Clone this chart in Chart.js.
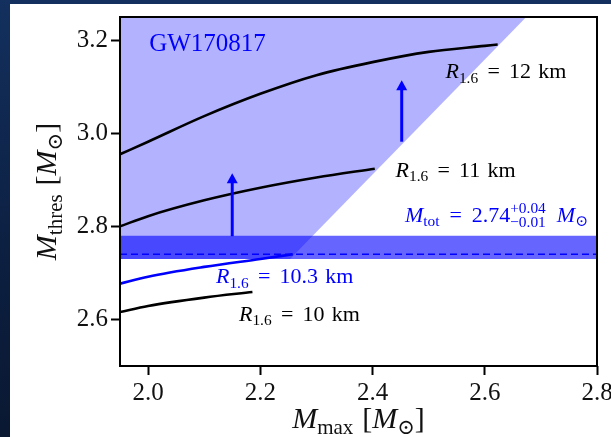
<!DOCTYPE html>
<html>
<head>
<meta charset="utf-8">
<script src="https://cdn.jsdelivr.net/npm/chart.js@4/dist/chart.umd.min.js"></script>
<style>
  html, body { margin: 0; padding: 0; width: 611px; height: 437px; overflow: hidden; }
  body { background: linear-gradient(180deg, #13305e 0%, #0c1f40 60%, #0a1832 100%); position: relative; }
  #panel { position: absolute; left: 10px; top: 4px; width: 621px; height: 433px; background: #fff; }
</style>
</head>
<body>
<div id="panel"><canvas id="chart" width="621" height="433"></canvas></div>
<script>
// axes
const xTicks = [2.0, 2.2, 2.4, 2.6, 2.8];
const yTicks = [2.6, 2.8, 3.0, 3.2];

// excluded region (GW170817) : lower edge of the shaded area
const shadeM = [1.95, 2.253, 2.674];
const shadeY = [2.73, 2.73, 3.25];

// M_tot = 2.74 (+0.04 / -0.01)
const bandM = [1.95, 2.8];
const bandLow = [2.73, 2.73];
const bandHigh = [2.78, 2.78];
const bandMid = [2.74, 2.74];

// threshold mass curves
const r12M = [1.95, 2.0, 2.1, 2.2, 2.3, 2.4, 2.5, 2.6, 2.623];
const r12 = [2.955, 2.982, 3.037, 3.085, 3.125, 3.153, 3.175, 3.188, 3.191];
const r11M = [1.95, 2.0, 2.1, 2.2, 2.3, 2.404];
const r11 = [2.800, 2.822, 2.856, 2.883, 2.905, 2.924];
const r103M = [1.95, 2.0, 2.1, 2.2, 2.258];
const r103 = [2.677, 2.692, 2.713, 2.730, 2.740];
const r10M = [1.95, 2.0, 2.1, 2.186];
const r10 = [2.616, 2.629, 2.647, 2.659];

// arrows
const arrowX = [2.15, 2.452];
const arrowFrom = [2.779, 2.982];
const arrowTo = [2.914, 3.114];

const pts = (xs, ys) => xs.map((x, i) => ({ x: x, y: ys[i] }));

const SERIF = '"Liberation Serif", "DejaVu Serif", "DejaVu Sans", serif';

// rich text: parts = [{t, i (italic), sub, stack:[sup, sub], g (gap before, em)}]
function fontFor(p, size) {
    const s = (p.sub || p.stack) ? size * 0.7 : size;
    return (p.i ? 'italic ' : '') + s.toFixed(1) + 'px ' + SERIF;
}
function partWidth(ctx, p, size) {
    ctx.font = fontFor(p, size);
    const g = (p.g || 0) * size;
    if (p.stack) return g + Math.max(ctx.measureText(p.stack[0]).width, ctx.measureText(p.stack[1]).width);
    return g + ctx.measureText(p.t).width;
}
function drawRich(ctx, parts, x, y, size, color, align) {
    const w = parts.reduce((s, p) => s + partWidth(ctx, p, size), 0);
    let cx = x;
    if (align === 'right') cx = x - w;
    if (align === 'center') cx = x - w / 2;
    ctx.fillStyle = color;
    ctx.textAlign = 'left';
    ctx.textBaseline = 'alphabetic';
    parts.forEach(p => {
        const pw = partWidth(ctx, p, size);
        const gx = cx + (p.g || 0) * size;
        ctx.font = fontFor(p, size);
        if (p.stack) {
            ctx.fillText(p.stack[0], gx, y - size * 0.42);
            ctx.fillText(p.stack[1], gx, y + size * 0.24);
        } else {
            ctx.fillText(p.t, gx, y + (p.sub ? size * 0.2 : 0));
        }
        cx += pw;
    });
}

const R = km => [{ t: 'R', i: true }, { t: '1.6', sub: true }, { t: '=', g: 0.42 }, { t: km, g: 0.42 }, { t: 'km', g: 0.33 }];

const notes = [
    { x: 2.002, y: 3.178, size: 25, color: '#0000ff', align: 'left', parts: [{ t: 'GW170817' }] },
    { x: 2.530, y: 3.118, size: 22, color: '#000', align: 'left', parts: R('12') },
    { x: 2.441, y: 2.906, size: 22, color: '#000', align: 'left', parts: R('11') },
    { x: 2.784, y: 2.810, size: 22, color: '#0000ff', align: 'right',
      parts: [{ t: 'M', i: true }, { t: 'tot', sub: true }, { t: '=', g: 0.45 }, { t: '2.74', g: 0.45 },
              { stack: ['+0.04', '\u22120.01'] }, { t: 'M', i: true, g: 0.5 }, { t: '\u2299', sub: true }] },
    { x: 2.121, y: 2.678, size: 22, color: '#0000ff', align: 'left', parts: R('10.3') },
    { x: 2.162, y: 2.597, size: 22, color: '#000', align: 'left', parts: R('10') }
];

const xTitle = [{ t: 'M', i: true }, { t: 'max', sub: true }, { t: '[', g: 0.3 }, { t: 'M', i: true }, { t: '\u2299', sub: true }, { t: ']' }];
const yTitle = [{ t: 'M', i: true }, { t: 'thres', sub: true }, { t: '[', g: 0.3 }, { t: 'M', i: true }, { t: '\u2299', sub: true }, { t: ']' }];

const extras = {
    id: 'extras',
    afterDatasetsDraw(chart) {
        const ctx = chart.ctx;
        const xs = chart.scales.x, ys = chart.scales.y;
        ctx.save();
        // arrows
        arrowX.forEach((ax, i) => {
            const px = xs.getPixelForValue(ax);
            const p0 = ys.getPixelForValue(arrowFrom[i]);
            const p1 = ys.getPixelForValue(arrowTo[i]);
            ctx.strokeStyle = '#0000ff';
            ctx.lineWidth = 3;
            ctx.beginPath();
            ctx.moveTo(px, p0);
            ctx.lineTo(px, p1 + 8);
            ctx.stroke();
            ctx.fillStyle = '#0000ff';
            ctx.beginPath();
            ctx.moveTo(px, p1);
            ctx.lineTo(px - 5.5, p1 + 10);
            ctx.lineTo(px + 5.5, p1 + 10);
            ctx.closePath();
            ctx.fill();
        });
        // labels
        notes.forEach(n => {
            drawRich(ctx, n.parts, xs.getPixelForValue(n.x), ys.getPixelForValue(n.y), n.size, n.color, n.align);
        });
        ctx.restore();
    },
    afterDraw(chart) {
        const ctx = chart.ctx;
        const a = chart.chartArea;
        ctx.save();
        ctx.strokeStyle = '#000';
        ctx.lineWidth = 2;
        ctx.strokeRect(a.left, a.top, a.right - a.left, a.bottom - a.top);
        // axis titles
        drawRich(ctx, xTitle, (a.left + a.right) / 2, 424, 30, '#111', 'center');
        ctx.translate(46, (a.top + a.bottom) / 2);
        ctx.rotate(-Math.PI / 2);
        drawRich(ctx, yTitle, 0, 0, 30, '#111', 'center');
        ctx.restore();
    }
};

// lower "order" is drawn on top
const curve = (xs, ys, color) => ({
    data: pts(xs, ys), borderColor: color, borderWidth: 2.6, pointRadius: 0,
    fill: false, cubicInterpolationMode: 'monotone', order: 1
});

const tickFont = { family: SERIF, size: 25 };

new Chart(document.getElementById('chart'), {
    type: 'line',
    data: {
        datasets: [
            { data: pts(shadeM, shadeY), borderWidth: 0, pointRadius: 0, fill: 'end', backgroundColor: 'rgba(0,0,255,0.3)', order: 6 },
            { data: pts(bandM, bandLow), borderWidth: 0, pointRadius: 0, fill: false, order: 5 },
            { data: pts(bandM, bandHigh), borderWidth: 0, pointRadius: 0, fill: '-1', backgroundColor: 'rgba(0,0,255,0.6)', order: 4 },
            { data: pts(bandM, bandMid), borderColor: '#0000ff', borderWidth: 1.6, borderDash: [7, 4], pointRadius: 0, fill: false, order: 2 },
            curve(r12M, r12, '#000'),
            curve(r11M, r11, '#000'),
            curve(r103M, r103, '#0000ff'),
            curve(r10M, r10, '#000')
        ]
    },
    options: {
        responsive: false,
        animation: false,
        layout: { padding: { top: 13, right: 34, bottom: 0, left: 0 } },
        plugins: { legend: { display: false }, tooltip: { enabled: false } },
        scales: {
            x: {
                type: 'linear', min: 1.95, max: 2.8,
                afterBuildTicks: s => { s.ticks = xTicks.map(v => ({ value: v })); },
                afterFit: s => { s.height = 71; s.paddingLeft = 0; s.paddingRight = 0; },
                ticks: { font: tickFont, color: '#111', padding: 3, maxRotation: 0, callback: v => v.toFixed(1) },
                grid: { drawOnChartArea: false, drawTicks: true, tickLength: 9, tickWidth: 2, tickColor: '#000' },
                border: { display: false }
            },
            y: {
                type: 'linear', min: 2.5, max: 3.25,
                afterBuildTicks: s => { s.ticks = yTicks.map(v => ({ value: v })); },
                afterFit: s => { s.width = 110; s.paddingTop = 0; s.paddingBottom = 0; },
                ticks: { font: tickFont, color: '#111', padding: 3, callback: v => v.toFixed(1) },
                grid: { drawOnChartArea: false, drawTicks: true, tickLength: 9, tickWidth: 2, tickColor: '#000' },
                border: { display: false }
            }
        }
    },
    plugins: [extras]
});
</script>
</body>
</html>
